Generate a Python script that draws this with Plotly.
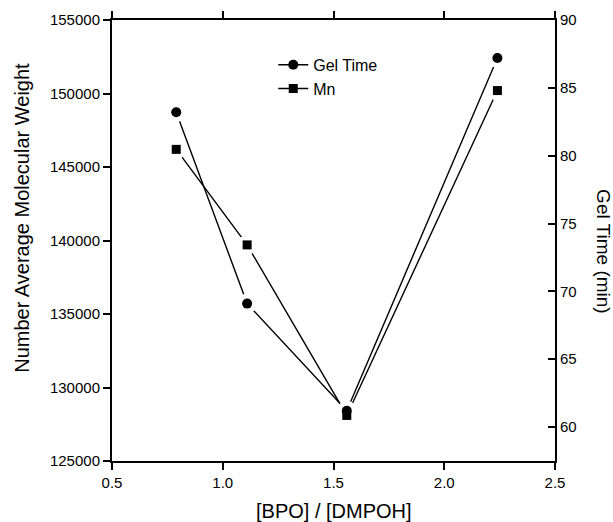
import plotly.graph_objects as go

# [BPO]/[DMPOH] molar ratio and the measured responses
ratio = [0.79, 1.11, 1.56, 2.24]
gel_time = [83.2, 69.1, 61.2, 87.2]          # min
mn = [146200, 139700, 128100, 150200]        # number average molecular weight

x_range = [0.5, 2.5]
mn_range = [125000, 155000]
gel_range = [57.5, 90]

FONT = "Liberation Sans, Arial, sans-serif"
BLACK = "#000000"
LINE_W = 1.4
GAP = 20  # white halo that opens a gap in the lines around each symbol

fig = go.Figure()

# Mn series (left axis): line and gap halos
fig.add_trace(go.Scatter(
    x=ratio, y=mn, name="Mn", mode="lines+markers", yaxis="y",
    line=dict(color=BLACK, width=LINE_W),
    marker=dict(symbol="square", size=9, color=BLACK),
    legendrank=2, hoverinfo="skip"))
fig.add_trace(go.Scatter(
    x=ratio, y=mn, mode="markers", yaxis="y", showlegend=False,
    marker=dict(symbol="circle", size=GAP, color="white"), hoverinfo="skip"))

# Gel time series (right axis): line, gap halos, symbols
fig.add_trace(go.Scatter(
    x=ratio, y=gel_time, name="Gel Time", mode="lines+markers", yaxis="y2",
    line=dict(color=BLACK, width=LINE_W),
    marker=dict(symbol="circle", size=10, color=BLACK),
    legendrank=1, hoverinfo="skip"))
fig.add_trace(go.Scatter(
    x=ratio, y=gel_time, mode="markers", yaxis="y2", showlegend=False,
    marker=dict(symbol="circle", size=GAP, color="white"), hoverinfo="skip"))
fig.add_trace(go.Scatter(
    x=ratio, y=gel_time, mode="markers", yaxis="y2", showlegend=False,
    marker=dict(symbol="circle", size=10, color=BLACK)))

# Mn symbols on a bare copy of the left axis so they stay on top
fig.add_trace(go.Scatter(
    x=ratio, y=mn, mode="markers", yaxis="y3", showlegend=False,
    marker=dict(symbol="square", size=9, color=BLACK)))

tick_font = dict(family=FONT, size=15, color=BLACK)
frame = dict(showgrid=False, zeroline=False, showline=True,
             linecolor=BLACK, linewidth=2, tickwidth=2, tickcolor=BLACK)

fig.update_layout(
    template="simple_white",
    width=613, height=522,
    margin=dict(l=112, r=58, t=20, b=61),
    paper_bgcolor="white", plot_bgcolor="white",
    font=dict(family=FONT, color=BLACK),
    xaxis=dict(range=x_range, dtick=0.5, tick0=0.5, tickformat=".1f",
               ticks="outside", ticklen=7, tickfont=tick_font, mirror="ticks",
               **frame),
    yaxis=dict(range=mn_range, dtick=5000, tick0=125000, tickformat="d",
               ticks="outside", ticklen=7, tickfont=tick_font, **frame),
    yaxis2=dict(range=gel_range, dtick=5, tick0=60,
                overlaying="y", side="right", anchor="x",
                ticks="inside", ticklen=7, tickfont=tick_font, **frame),
    yaxis3=dict(range=mn_range, overlaying="y", side="left", anchor="x",
                showline=False, showgrid=False, zeroline=False,
                showticklabels=False, ticks=""),
    legend=dict(
        x=0.364, y=0.937, xanchor="left", yanchor="top",
        bgcolor="rgba(0,0,0,0)", borderwidth=0,
        font=dict(family=FONT, size=16, color=BLACK)),
    showlegend=True,
    annotations=[
        dict(text="[BPO] / [DMPOH]", xref="paper", yref="paper",
             x=0.5, y=-0.113, xanchor="center", yanchor="middle",
             showarrow=False, font=dict(family=FONT, size=20, color=BLACK)),
        dict(text="Number Average Molecular Weight", xref="paper", yref="paper",
             x=-0.205, y=0.552, xanchor="center", yanchor="middle", textangle=-90,
             showarrow=False, font=dict(family=FONT, size=20, color=BLACK)),
        dict(text="Gel Time (min)", xref="paper", yref="paper",
             x=1.108, y=0.474, xanchor="center", yanchor="middle", textangle=90,
             showarrow=False, font=dict(family=FONT, size=19, color=BLACK)),
    ],
)

fig.write_html("out.html")
